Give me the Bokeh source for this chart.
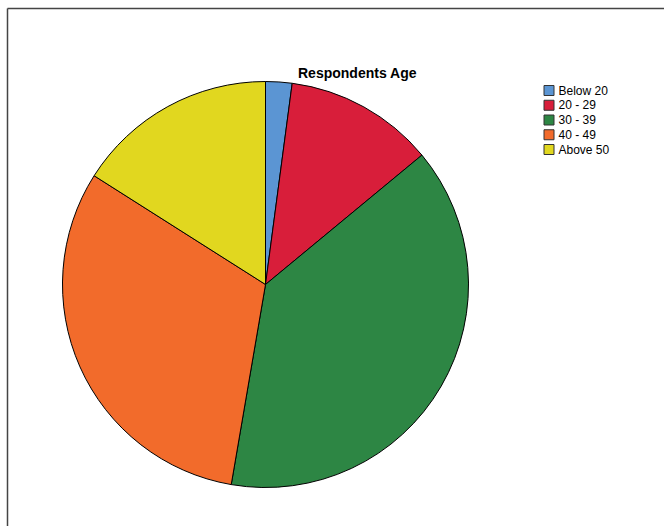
import numpy as np
from bokeh.plotting import figure
from bokeh.models import ColumnDataSource
from bokeh.core.properties import value
from bokeh.embed import file_html
from bokeh.resources import INLINE

categories = ["Below 20", "20 - 29", "30 - 39", "40 - 49", "Above 50"]
shares = [2.1, 11.9, 38.7, 31.3, 16.0]
colors = ["#5b95d3", "#d81e3a", "#2d8644", "#f26b2b", "#e1d71f"]
title = "Respondents Age"

W, H = 664, 526
p = figure(width=W, height=H, x_range=(0, W), y_range=(H, 0),
           output_backend="svg", toolbar_location=None, min_border=0)
p.axis.visible = False
p.grid.visible = False
p.outline_line_color = None
p.background_fill_color = "white"
p.border_fill_color = "white"

vals = np.array(shares, dtype=float)
frac = vals / vals.sum()
ends = np.cumsum(frac)
starts = ends - frac
start_angle = np.pi / 2 - starts * 2 * np.pi
end_angle = np.pi / 2 - ends * 2 * np.pi

src = ColumnDataSource(dict(sa=start_angle, ea=end_angle, color=colors, cat=categories))
cx, cy, r = 265, 284, 203
p.wedge(x=cx, y=cy, radius=r, radius_units="screen", start_angle="sa", end_angle="ea",
        direction="clock", fill_color="color", line_color="black", line_width=1,
        source=src)

# frame lines
p.segment(x0=[7, 7], y0=[8, 8], x1=[W, 7], y1=[8, H], line_color="#444444", line_width=1.5)

# title
p.text(x=[357], y=[72], text=[title], text_font=value("Liberation Sans"),
       text_font_size="14px", text_font_style="bold", text_align="center",
       text_baseline="middle", text_color="black")

# legend
ly = 90 + 14.75 * np.arange(len(categories))
lsrc = ColumnDataSource(dict(y=ly, color=colors, cat=categories))
p.rect(x=548.5, y="y", width=10, height=10, width_units="screen", height_units="screen",
       fill_color="color", line_color="#333333", line_width=1, source=lsrc)
p.text(x=558, y="y", text="cat", text_font=value("Liberation Sans"), text_font_size="12px",
       text_baseline="middle", text_align="left", text_color="black", source=lsrc)

open("out.html", "w").write(file_html(p, INLINE))
